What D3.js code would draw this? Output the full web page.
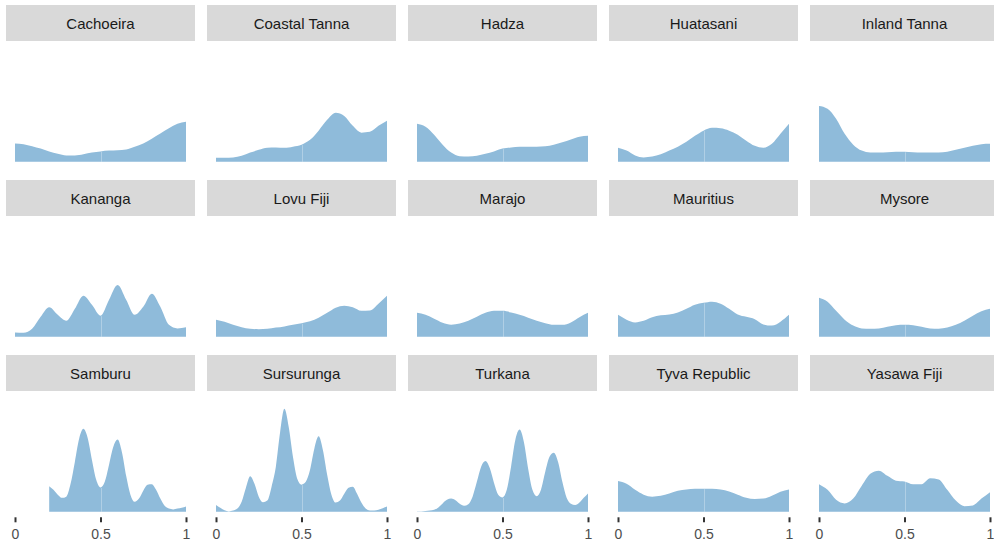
<!DOCTYPE html>
<html>
<head>
<meta charset="utf-8">
<script src="https://cdn.jsdelivr.net/npm/d3@7"></script>
<style>
  html, body { margin: 0; padding: 0; background: #ffffff; overflow: hidden; }
  svg { display: block; }
</style>
</head>
<body>
<div id="chart"></div>
<script>
// ---------- data ----------
const panelNames = ["Cachoeira", "Coastal Tanna", "Hadza", "Huatasani", "Inland Tanna",
                    "Kananga", "Lovu Fiji", "Marajo", "Mauritius", "Mysore",
                    "Samburu", "Sursurunga", "Turkana", "Tyva Republic", "Yasawa Fiji"];

// evaluation grids (x positions of the density estimates)
const gridCoarse = d3.range(21).map(i => +(i * 0.05).toFixed(3));
const gridFine = d3.range(41).map(i => +(i * 0.025).toFixed(3));

const tickValues = [0, 0.5, 1];
const tickLabels = ["0", "0.5", "1"];

// densities (coarse grid, 21 points)
const cachoeira    = [0.46,0.44,0.39,0.33,0.26,0.20,0.16,0.16,0.19,0.23,0.26,0.28,0.29,0.31,0.38,0.46,0.58,0.71,0.84,0.95,1.00];
const coastalTanna = [0.10,0.10,0.11,0.15,0.23,0.30,0.35,0.36,0.35,0.38,0.43,0.55,0.78,1.05,1.23,1.15,0.90,0.73,0.75,0.90,1.03];
const hadza        = [0.95,0.88,0.68,0.43,0.23,0.14,0.13,0.15,0.20,0.26,0.33,0.36,0.38,0.38,0.38,0.39,0.43,0.49,0.56,0.63,0.65];
const huatasani    = [0.35,0.28,0.16,0.11,0.13,0.19,0.28,0.38,0.50,0.65,0.78,0.85,0.84,0.78,0.68,0.53,0.40,0.35,0.45,0.70,0.95];
const inlandTanna  = [1.40,1.33,1.08,0.70,0.43,0.28,0.23,0.23,0.24,0.25,0.25,0.24,0.23,0.23,0.23,0.25,0.30,0.35,0.40,0.44,0.45];
const kananga      = [0.11,0.10,0.20,0.50,0.74,0.55,0.40,0.70,1.03,0.80,0.53,0.93,1.30,0.93,0.55,0.75,1.08,0.75,0.30,0.21,0.24];
const lovuFiji     = [0.43,0.38,0.30,0.24,0.20,0.19,0.20,0.23,0.26,0.30,0.34,0.39,0.48,0.60,0.73,0.78,0.74,0.65,0.66,0.83,1.03];
const marajo       = [0.60,0.55,0.45,0.35,0.30,0.33,0.40,0.50,0.60,0.65,0.65,0.61,0.55,0.48,0.40,0.34,0.30,0.30,0.36,0.49,0.60];
const mauritius    = [0.55,0.43,0.36,0.40,0.49,0.54,0.56,0.61,0.70,0.80,0.85,0.88,0.83,0.70,0.56,0.50,0.44,0.31,0.28,0.38,0.55];
const mysore       = [0.98,0.88,0.65,0.43,0.28,0.21,0.20,0.21,0.25,0.29,0.30,0.29,0.25,0.21,0.20,0.23,0.30,0.40,0.53,0.64,0.70];
const tyvaRepublic = [0.77,0.70,0.55,0.43,0.38,0.40,0.46,0.53,0.56,0.58,0.58,0.58,0.56,0.51,0.43,0.35,0.32,0.33,0.40,0.50,0.56];
const yasawaFiji   = [0.69,0.55,0.30,0.21,0.33,0.65,0.95,1.03,0.90,0.78,0.76,0.69,0.69,0.84,0.81,0.55,0.28,0.14,0.16,0.33,0.49];

// densities (fine grid, 41 points; null = no data)
const samburu = [null,null,null,null,null,null,null,null,
  0.64,0.55,0.43,0.35,0.38,0.70,1.25,1.83,2.08,1.85,1.30,0.80,0.61,0.75,1.18,1.63,1.81,1.50,0.90,0.43,0.25,0.33,0.53,0.68,0.69,0.55,0.33,0.15,0.08,0.06,0.08,0.10,0.13];
const sursurunga = [0.17,0.10,0.04,0.01,0.03,0.08,0.25,0.60,0.89,0.70,0.38,0.24,0.28,0.63,1.13,2.00,2.58,2.13,1.38,0.83,0.68,0.75,1.05,1.58,1.89,1.55,0.93,0.43,0.23,0.28,0.45,0.60,0.63,0.45,0.23,0.08,0.03,0.03,0.05,0.09,0.13];
const turkana = [0.01,0.01,0.02,0.03,0.05,0.11,0.21,0.30,0.33,0.29,0.20,0.15,0.19,0.38,0.75,1.13,1.27,1.10,0.73,0.43,0.36,0.55,1.13,1.80,2.06,1.75,1.08,0.55,0.39,0.55,1.00,1.38,1.48,1.25,0.75,0.35,0.20,0.17,0.23,0.35,0.46];

const seriesValues = [cachoeira, coastalTanna, hadza, huatasani, inlandTanna,
                      kananga, lovuFiji, marajo, mauritius, mysore,
                      samburu, sursurunga, turkana, tyvaRepublic, yasawaFiji];

// ---------- layout ----------
const W = 994, H = 544;
const nCols = 5;
const colPitch = 201, panelW = 189, left0 = 6;
const rowPitch = 175, top0 = 5, stripH = 36;
const baseOffset = 156.8;         // strip top -> density baseline
const yMax = 3.025;               // density at strip bottom
const fillColor = "#8fbbda";

const svg = d3.select("#chart").append("svg")
  .attr("width", W).attr("height", H);

const area = d3.area()
  .defined(d => d.v != null)
  .curve(d3.curveMonotoneX);

panelNames.forEach((name, i) => {
  const col = i % nCols, row = Math.floor(i / nCols);
  const px = left0 + col * colPitch;
  const py = top0 + row * rowPitch;
  const vals = seriesValues[i];
  const grid = vals.length === gridFine.length ? gridFine : gridCoarse;
  const data = grid.map((x, k) => ({ x, v: vals[k] }));

  const base = py + baseOffset;
  const x = d3.scaleLinear().domain([0, 1]).range([px + 9, px + 180]);
  const y = d3.scaleLinear().domain([0, yMax]).range([base, py + stripH]);

  const g = svg.append("g").attr("class", "panel");

  // strip
  g.append("rect")
    .attr("x", px).attr("y", py)
    .attr("width", panelW).attr("height", stripH)
    .attr("fill", "#d9d9d9");
  g.append("text")
    .attr("x", px + panelW / 2).attr("y", py + 24)
    .attr("text-anchor", "middle")
    .attr("font-family", "'Liberation Sans', Arial, sans-serif")
    .attr("font-size", 15)
    .attr("fill", "#1a1a1a")
    .text(name);

  // density area
  area.x(d => x(d.x)).y0(base).y1(d => y(d.v));
  g.append("path")
    .datum(data)
    .attr("d", area)
    .attr("fill", fillColor);

  // faint seam at x = 0.5
  const mid = data.find(d => Math.abs(d.x - 0.5) < 1e-6);
  if (mid && mid.v != null) {
    g.append("line")
      .attr("x1", Math.round(x(0.5)) + 0.5).attr("x2", Math.round(x(0.5)) + 0.5)
      .attr("y1", base).attr("y2", y(mid.v) + 0.5)
      .attr("stroke", "#ffffff").attr("stroke-opacity", 0.3).attr("stroke-width", 1);
  }

  // x axis on bottom row only
  if (row === 2) {
    const axis = d3.axisBottom(x)
      .tickValues(tickValues)
      .tickFormat((d, k) => tickLabels[k])
      .tickSize(5).tickPadding(7);
    const ag = g.append("g")
      .attr("transform", `translate(0,${base + 5.5})`)
      .call(axis);
    ag.select(".domain").remove();
    ag.selectAll(".tick line").attr("stroke", "#333333").attr("stroke-width", 2);
    ag.selectAll(".tick text")
      .attr("fill", "#4d4d4d")
      .attr("font-family", "'Liberation Sans', Arial, sans-serif")
      .attr("font-size", 14);
  }
});
</script>
</body>
</html>
